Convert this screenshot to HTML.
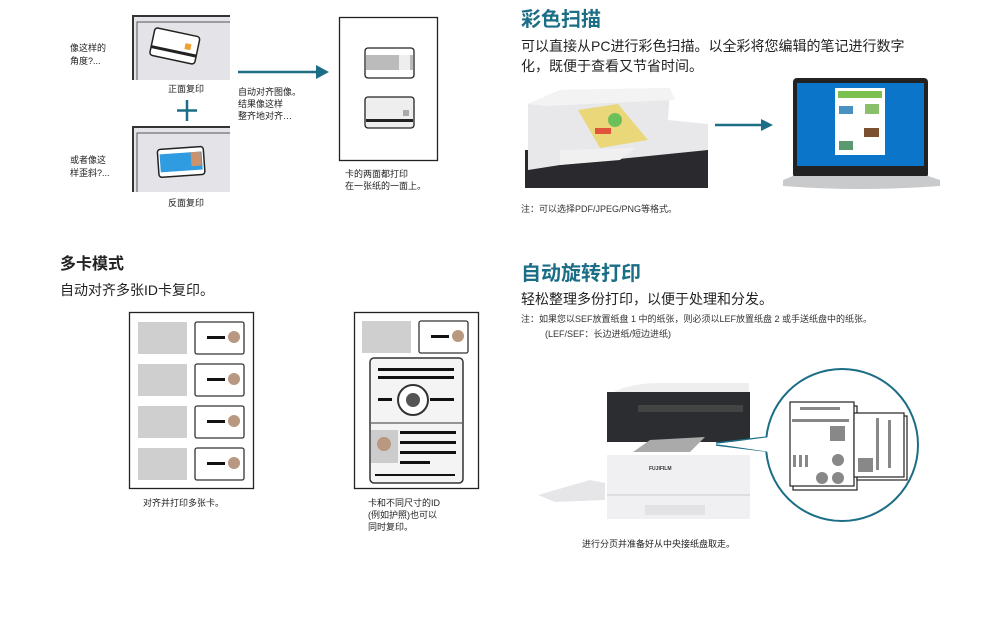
<!DOCTYPE html>
<html><head><meta charset="utf-8"><style>
html,body{margin:0;padding:0;background:#fff;}
svg{display:block;}
text{font-family:"Liberation Sans","Noto Sans CJK SC",sans-serif;}
</style></head><body>
<svg width="990" height="617" viewBox="0 0 990 617" xmlns="http://www.w3.org/2000/svg">
<!-- ===== Top-left: ID card copy ===== -->
<g>
 <rect x="133" y="16" width="97" height="64" fill="#e4e4e8"/>
 <path d="M133 80 V16 H230" fill="none" stroke="#333" stroke-width="2"/>
 <path d="M137 80 V22 H230" fill="none" stroke="#555" stroke-width="1"/>
 <g transform="rotate(12 175 45)">
  <rect x="152" y="32" width="46" height="28" rx="3" fill="#fff" stroke="#222" stroke-width="1.5"/>
  <rect x="152" y="50" width="46" height="3" fill="#222"/>
  <rect x="185" y="41" width="6" height="6" fill="#f0a030"/>
 </g>
 <text x="168" y="92" font-size="9" fill="#222">正面复印</text>
 <text x="70" y="51" font-size="9" fill="#222">像这样的</text>
 <text x="70" y="64" font-size="9" fill="#222">角度?...</text>
 <path d="M187 100 V121 M177 110.5 H197" stroke="#1b6e86" stroke-width="2.5"/>
 <rect x="133" y="127" width="97" height="65" fill="#e4e4e8"/>
 <path d="M133 192 V127 H230" fill="none" stroke="#333" stroke-width="2"/>
 <path d="M137 192 V133 H230" fill="none" stroke="#555" stroke-width="1"/>
 <g transform="rotate(-4 180 160)">
  <rect x="158" y="148" width="46" height="28" rx="3" fill="#fff" stroke="#222" stroke-width="1.5"/>
  <rect x="160" y="153" width="42" height="18" fill="#2f9be0"/>
  <rect x="191" y="153" width="10" height="14" fill="#c99370"/>
 </g>
 <text x="70" y="163" font-size="9" fill="#222">或者像这</text>
 <text x="70" y="176" font-size="9" fill="#222">样歪斜?...</text>
 <text x="168" y="206" font-size="9" fill="#222">反面复印</text>
 <line x1="238" y1="72" x2="318" y2="72" stroke="#1b6e86" stroke-width="2.5"/>
 <polygon points="316,65 329,72 316,79" fill="#1b6e86"/>
 <text x="238" y="95" font-size="9" fill="#222">自动对齐图像。</text>
 <text x="238" y="107" font-size="9" fill="#222">结果像这样</text>
 <text x="238" y="119" font-size="9" fill="#222">整齐地对齐…</text>
 <rect x="339.5" y="17.5" width="98" height="143" fill="#fff" stroke="#222" stroke-width="1.3"/>
 <rect x="365" y="48" width="49" height="30" rx="3" fill="#fff" stroke="#222" stroke-width="1.3"/>
 <rect x="366" y="55" width="47" height="15" fill="#bbb"/>
 <rect x="399" y="55" width="11" height="15" fill="#eee"/>
 <rect x="365" y="97" width="49" height="31" rx="3" fill="#eee" stroke="#222" stroke-width="1.3"/>
 <rect x="366" y="119" width="47" height="3" fill="#222"/>
 <rect x="403" y="110" width="6" height="6" fill="#aaa"/>
 <text x="345" y="177" font-size="9" fill="#222">卡的两面都打印</text>
 <text x="345" y="189" font-size="9" fill="#222">在一张纸的一面上。</text>
</g>

<!-- ===== Top-right: color scan ===== -->
<text x="521" y="26" font-size="20" font-weight="bold" fill="#1b6e86">彩色扫描</text>
<text x="521" y="51" font-size="14" fill="#222">可以直接从PC进行彩色扫描。以全彩将您编辑的笔记进行数字</text>
<text x="521" y="71" font-size="14" fill="#222">化，既便于查看又节省时间。</text>
<g>
 <rect x="525" y="150" width="183" height="38" fill="#2a2a2e"/>
 <path d="M528 104 L560 90 L670 88 L668 120 L708 124 L708 150 L560 165 L528 170 Z" fill="#e8e8ea"/>
 <path d="M528 104 L560 90 L670 88 L675 100 L545 106 Z" fill="#f3f3f4"/>
 <path d="M560 165 L620 160 L635 148 L560 150 Z" fill="#f0f0f0"/>
 <polygon points="578,110 618,104 648,140 600,148" fill="#e9d77a"/>
 <circle cx="615" cy="120" r="7" fill="#6cbf5a"/>
 <rect x="595" y="128" width="16" height="6" fill="#e0553a"/>
</g>
<line x1="715" y1="125" x2="763" y2="125" stroke="#1b6e86" stroke-width="2.5"/>
<polygon points="761,119 773,125 761,131" fill="#1b6e86"/>
<g>
 <rect x="793" y="78" width="135" height="100" rx="4" fill="#222"/>
 <rect x="797" y="83" width="127" height="83" fill="#0a75c9"/>
 <rect x="835" y="88" width="50" height="67" fill="#fff"/>
 <rect x="838" y="91" width="44" height="7" fill="#7cc04f"/>
 <rect x="839" y="106" width="14" height="8" fill="#4a90c0"/>
 <rect x="865" y="104" width="14" height="10" fill="#8bc06a"/>
 <rect x="864" y="128" width="15" height="9" fill="#7a5030"/>
 <rect x="839" y="141" width="14" height="9" fill="#5a9a70"/>
 <path d="M783 180 L793 176 H928 L940 180 V186 Q861 192 783 186 Z" fill="#c9cacc"/>
</g>
<text x="521" y="212" font-size="9" fill="#333">注：可以选择PDF/JPEG/PNG等格式。</text>

<!-- ===== Bottom-left: multi-card ===== -->
<text x="60" y="269" font-size="16" font-weight="bold" fill="#222">多卡模式</text>
<text x="60" y="295" font-size="14" fill="#222">自动对齐多张ID卡复印。</text>
<rect x="129.5" y="312.5" width="124" height="176" fill="#fff" stroke="#222" stroke-width="1.3"/>
<g fill="#cfcfcf">
 <rect x="138" y="322" width="49" height="32"/><rect x="138" y="364" width="49" height="32"/>
 <rect x="138" y="406" width="49" height="32"/><rect x="138" y="448" width="49" height="32"/>
</g>
<g fill="#fff" stroke="#333" stroke-width="1.3">
 <rect x="195" y="322" width="49" height="32" rx="2"/><rect x="195" y="364" width="49" height="32" rx="2"/>
 <rect x="195" y="406" width="49" height="32" rx="2"/><rect x="195" y="448" width="49" height="32" rx="2"/>
</g>
<g fill="#111">
 <rect x="207" y="336" width="18" height="3"/><rect x="207" y="378" width="18" height="3"/>
 <rect x="207" y="420" width="18" height="3"/><rect x="207" y="462" width="18" height="3"/>
</g>
<g fill="#b89880">
 <circle cx="234" cy="337" r="6"/><circle cx="234" cy="379" r="6"/><circle cx="234" cy="421" r="6"/><circle cx="234" cy="463" r="6"/>
</g>
<text x="143" y="506" font-size="9" fill="#222">对齐并打印多张卡。</text>

<rect x="354.5" y="312.5" width="124" height="176" fill="#fff" stroke="#222" stroke-width="1.3"/>
<rect x="362" y="321" width="49" height="32" fill="#cfcfcf"/>
<rect x="419" y="321" width="49" height="32" rx="2" fill="#fff" stroke="#333" stroke-width="1.3"/>
<rect x="431" y="335" width="18" height="3" fill="#111"/>
<circle cx="458" cy="336" r="6" fill="#b89880"/>
<rect x="370" y="358" width="93" height="125" rx="4" fill="#f4f4f4" stroke="#333" stroke-width="1.5"/>
<g fill="#111">
 <rect x="378" y="368" width="76" height="3"/><rect x="378" y="376" width="76" height="3"/>
 <rect x="378" y="398" width="14" height="3"/><rect x="430" y="398" width="24" height="3"/>
 <rect x="400" y="431" width="56" height="3"/><rect x="400" y="441" width="56" height="3"/>
 <rect x="400" y="451" width="56" height="3"/><rect x="400" y="461" width="30" height="3"/>
 <rect x="375" y="474" width="80" height="2"/>
</g>
<circle cx="413" cy="400" r="15" fill="#fff" stroke="#333" stroke-width="2"/>
<circle cx="413" cy="400" r="7" fill="#555"/>
<line x1="371" y1="423" x2="462" y2="423" stroke="#333"/>
<rect x="371" y="430" width="27" height="33" fill="#ccc"/>
<circle cx="384" cy="444" r="7" fill="#b89880"/>
<text x="368" y="506" font-size="9" fill="#222">卡和不同尺寸的ID</text>
<text x="368" y="518" font-size="9" fill="#222">(例如护照)也可以</text>
<text x="368" y="530" font-size="9" fill="#222">同时复印。</text>

<!-- ===== Bottom-right: rotate print ===== -->
<text x="521" y="280" font-size="20" font-weight="bold" fill="#1b6e86">自动旋转打印</text>
<text x="521" y="304" font-size="14" fill="#222">轻松整理多份打印，以便于处理和分发。</text>
<text x="521" y="322" font-size="9" fill="#333">注：如果您以SEF放置纸盘 1 中的纸张，则必须以LEF放置纸盘 2 或手送纸盘中的纸张。</text>
<text x="545" y="337" font-size="9" fill="#333">(LEF/SEF：长边进纸/短边进纸)</text>
<g>
 <path d="M612 393 Q630 383 660 383 H749 V392 H612 Z" fill="#eeeeef"/>
 <rect x="607" y="392" width="143" height="50" fill="#2c2d31"/>
 <rect x="638" y="405" width="105" height="7" fill="#444"/>
 <polygon points="633,452 650,440 705,437 690,452" fill="#aaa"/>
 <rect x="607" y="455" width="143" height="64" fill="#f0f0f2"/>
 <line x1="607" y1="495" x2="750" y2="495" stroke="#ccc"/>
 <rect x="645" y="505" width="60" height="10" fill="#e2e2e4"/>
 <text x="649" y="470" font-size="5" font-weight="bold" fill="#333">FUJIFILM</text>
 <polygon points="538,495 590,480 605,483 605,500 555,502" fill="#e6e6e8"/>
</g>
<path d="M716 443 L768 437" stroke="#1b6e86" stroke-width="1.6"/>
<path d="M716 445 L766 451" stroke="#1b6e86" stroke-width="1.6"/>
<circle cx="842" cy="445" r="76" fill="#fff" stroke="#1b6e86" stroke-width="2"/>
<path d="M716 444 L770 437 V452 Z" fill="#fff"/>
<g stroke="#222" stroke-width="1.2">
 <rect x="793" y="406" width="64" height="84" fill="#fff"/>
 <rect x="790" y="402" width="64" height="84" fill="#fff"/>
 <rect x="857" y="416" width="50" height="64" fill="#fff"/>
 <rect x="854" y="413" width="50" height="64" fill="#fff"/>
</g>
<g fill="#888">
 <rect x="800" y="407" width="40" height="3"/><rect x="792" y="419" width="57" height="3"/>
 <rect x="830" y="426" width="15" height="15"/>
 <rect x="793" y="455" width="3" height="12"/><rect x="799" y="455" width="3" height="12"/><rect x="805" y="455" width="3" height="12"/>
 <circle cx="838" cy="460" r="6"/><circle cx="822" cy="478" r="6"/><circle cx="838" cy="478" r="6"/>
 <rect x="876" y="418" width="3" height="52"/><rect x="888" y="420" width="3" height="48"/>
 <rect x="858" y="458" width="15" height="14"/>
</g>
<text x="582" y="547" font-size="9" fill="#222">进行分页并准备好从中央接纸盘取走。</text>
</svg>
</body></html>
